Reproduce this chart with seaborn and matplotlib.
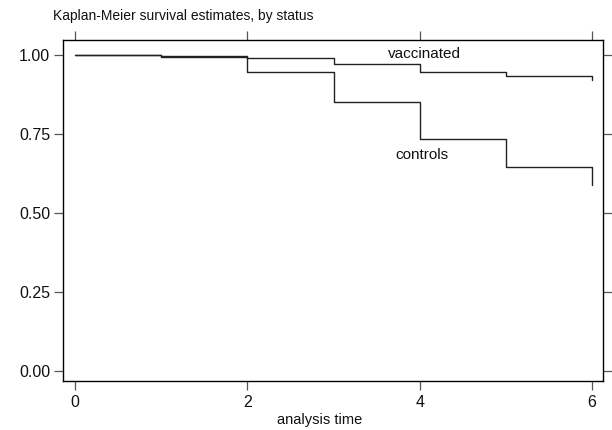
import matplotlib
matplotlib.use("Agg")
import matplotlib.pyplot as plt
import seaborn as sns
import pandas as pd

# Data
times = [0, 1, 2, 3, 4, 5, 6]
surv_vaccinated = [1.000, 0.997, 0.990, 0.972, 0.946, 0.934, 0.919]
surv_controls = [1.000, 0.994, 0.947, 0.852, 0.734, 0.645, 0.589]
group_names = ["vaccinated", "controls"]
x_ticks = [0, 2, 4, 6]
y_ticks = [0.00, 0.25, 0.50, 0.75, 1.00]
y_ticklabels = ["0.00", "0.25", "0.50", "0.75", "1.00"]
title_text = "Kaplan-Meier survival estimates, by status"
x_label = "analysis time"

df = pd.DataFrame({
    "time": times * 2,
    "survival": surv_vaccinated + surv_controls,
    "status": [group_names[0]] * len(times) + [group_names[1]] * len(times),
})

sns.set_style("white")
plt.rcParams["font.family"] = ["Liberation Sans", "DejaVu Sans"]

W, H = 612, 430
fig = plt.figure(figsize=(W / 100, H / 100), dpi=100)
ax = fig.add_axes([63 / W, (H - 381) / H, 540 / W, 341 / H])

sns.lineplot(data=df, x="time", y="survival", units="status", estimator=None,
             drawstyle="steps-post", color="#222222", linewidth=1.0, ax=ax,
             legend=False)

ax.set_xlim(-0.14, 6.127)
ax.set_ylim(-0.032, 1.047)
ax.set_xticks(x_ticks)
ax.set_xticklabels([str(t) for t in x_ticks])
ax.set_yticks(y_ticks)
ax.set_yticklabels(y_ticklabels)

for s in ax.spines.values():
    s.set_color("black")
    s.set_linewidth(1.0)

ax.tick_params(axis="both", direction="out", length=6.3, width=0.9, color="#555555",
               labelsize=11.5, labelcolor="#111111", top=True, right=True,
               labeltop=False, labelright=False, bottom=True, left=True)
ax.tick_params(axis="x", pad=3.5)
ax.tick_params(axis="y", pad=3)

ax.set_xlabel(x_label, fontsize=10.5, color="#111111", labelpad=1)
ax.xaxis.set_label_coords((320 - 63) / 540, -0.095)
ax.set_ylabel("")

ax.text(4.05, 1.0016, group_names[0], ha="center", va="center", fontsize=11, color="#111111")
ax.text(4.03, 0.682, group_names[1], ha="center", va="center", fontsize=11, color="#111111")

fig.text(53 / W, 1 - 16 / H, title_text, ha="left", va="center", fontsize=10, color="#111111")

fig.savefig("out.png", dpi=100, facecolor="white")
